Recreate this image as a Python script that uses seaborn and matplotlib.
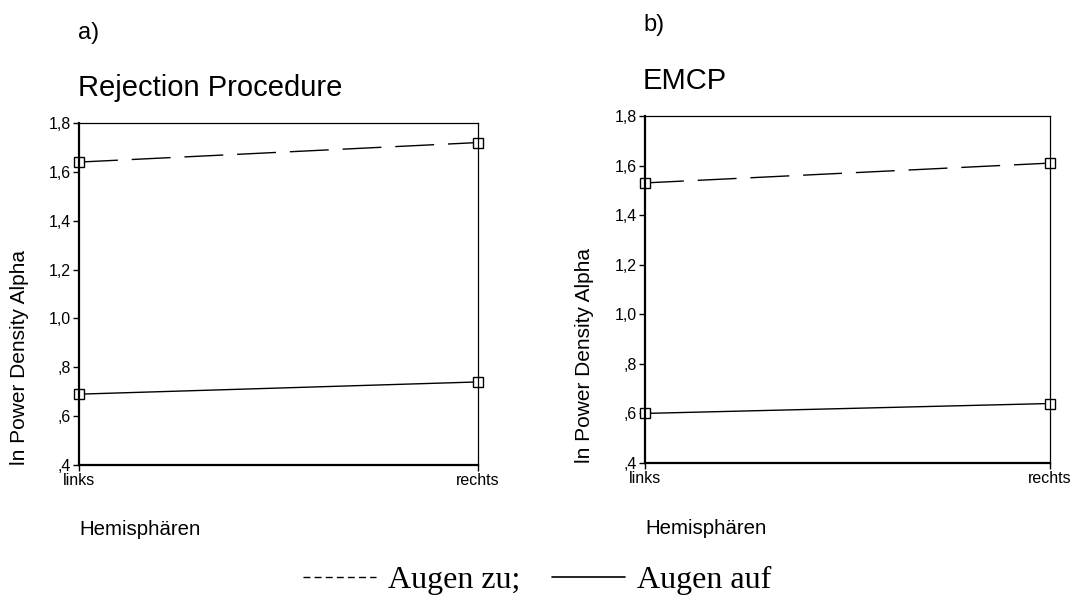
"""
plot.py
Recreates the two-panel alpha power density chart (Rejection Procedure vs EMCP).
"""

import pandas as pd
import matplotlib.pyplot as plt
import seaborn as sns
from matplotlib.lines import Line2D

# data
hemispheres = ["links", "rechts"]
conditions = ["Augen zu", "Augen auf"]
rejection_zu = [1.64, 1.72]
rejection_auf = [0.69, 0.74]
emcp_zu = [1.53, 1.61]
emcp_auf = [0.60, 0.64]
ytick_values = [0.4, 0.6, 0.8, 1.0, 1.2, 1.4, 1.6, 1.8]
ytick_labels = [",4", ",6", ",8", "1,0", "1,2", "1,4", "1,6", "1,8"]

W, H = 1072, 611


def make_frame(zu, auf):
    rows = []
    for cond, vals in zip(conditions, [zu, auf]):
        for hemi, v in zip(hemispheres, vals):
            rows.append({"Hemisphäre": hemi, "Wert": v, "Bedingung": cond})
    return pd.DataFrame(rows)


def px_axes(left, top, right, bottom):
    return [left / W, 1 - bottom / H, (right - left) / W, (bottom - top) / H]


sns.set_theme(style="ticks")
plt.rcParams["font.family"] = ["Liberation Sans", "DejaVu Sans"]
plt.rcParams["text.color"] = "black"
plt.rcParams["axes.labelcolor"] = "black"

fig = plt.figure(figsize=(W / 100, H / 100), dpi=100)

panels = [
    ("a)", "Rejection Procedure", rejection_zu, rejection_auf, px_axes(79, 123, 478, 465), (78, 33, 88)),
    ("b)", "EMCP", emcp_zu, emcp_auf, px_axes(645, 116, 1050, 463), (643, 25, 81)),
]

for letter, title, zu, auf, rect, (tx, ly, ty) in panels:
    ax = fig.add_axes(rect)
    df = make_frame(zu, auf)
    sns.lineplot(
        data=df, x="Hemisphäre", y="Wert", style="Bedingung",
        style_order=conditions,
        dashes={"Augen zu": (28, 10), "Augen auf": ""},
        markers={"Augen zu": "s", "Augen auf": "s"},
        color="black", lw=1, markersize=7,
        markerfacecolor="white", markeredgecolor="black", markeredgewidth=1,
        legend=False, sort=False, clip_on=False, ax=ax,
    )
    ax.set_xlim(0, 1)
    ax.set_ylim(0.4, 1.8)
    ax.set_yticks(ytick_values, ytick_labels)
    ax.tick_params(labelsize=11.5, length=4, width=1, direction="out", pad=2, colors="black")
    for side in ["left", "bottom"]:
        ax.spines[side].set_linewidth(1.6)
    for side in ["top", "right"]:
        ax.spines[side].set_linewidth(0.9)
    for s in ax.spines.values():
        s.set_color("black")

    ax.set_ylabel("ln Power Density Alpha", loc="bottom", fontsize=15)
    ax.yaxis.set_label_coords(-0.125, 0)
    ax.set_xlabel("Hemisphären", loc="left", fontsize=14.7)
    ax.xaxis.set_label_coords(0, -0.16)

    fig.text(tx / W, 1 - ly / H, letter, fontsize=17, va="center", ha="left")
    fig.text(tx / W, 1 - ty / H, title, fontsize=21, va="center", ha="left")

# legend at the bottom, in a serif face
handles = [
    Line2D([], [], color="black", lw=1, dashes=(5, 3)),
    Line2D([], [], color="black", lw=1.2),
]
fig.legend(handles, ["Augen zu;", "Augen auf"], loc="center", ncol=2,
           bbox_to_anchor=(537 / W, 1 - 580 / H), frameon=False,
           prop={"family": "Liberation Serif", "size": 23},
           handlelength=2.3, handletextpad=0.35, columnspacing=1.0)

fig.savefig("out.png", dpi=100)
plt.close(fig)
